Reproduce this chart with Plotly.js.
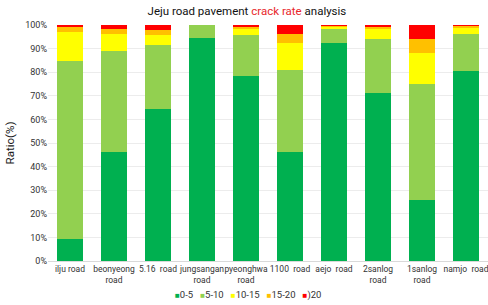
<!DOCTYPE html>
<html>
<head>
<meta charset="utf-8">
<script src="https://cdn.plot.ly/plotly-3.0.1.min.js"></script>
<style>html,body{margin:0;padding:0;background:#fff;}#chart{width:488px;height:305px;}</style>
</head>
<body>
<div id="chart"></div>
<script>
const categories = ["ilju road", "beonyeong<br>road", "5.16\u00a0\u00a0road", "jungsangan<br>road", "pyeonghwa<br>road", "1100\u00a0\u00a0road", "aejo\u00a0\u00a0road", "2sanlog<br>road", "1sanlog<br>road", "namjo\u00a0\u00a0road"];
const seriesNames = ["0-5", "5-10", "10-15", "15-20", ")20"];
const s0_5   = [9.5, 46.1, 64.6, 94.5, 78.5, 46.1, 92.4, 71.2, 26.0, 80.7];
const s5_10  = [75.4, 42.7, 27.1, 5.5, 17.1, 34.9, 6.0, 23.0, 48.9, 15.7];
const s10_15 = [12.0, 7.5, 4.1, 0, 2.8, 11.2, 0.7, 3.9, 13.4, 2.4];
const s15_20 = [2.1, 2.0, 1.9, 0, 0.9, 4.1, 0.6, 0.9, 5.6, 0.6];
const s20    = [1.0, 1.7, 2.3, 0, 0.7, 3.7, 0.3, 1.0, 6.1, 0.6];
const colors = ["#00b050", "#92d050", "#ffff00", "#ffc000", "#ff0000"];
const allSeries = [s0_5, s5_10, s10_15, s15_20, s20];

const traces = allSeries.map((vals, i) => ({
  type: "bar",
  name: seriesNames[i],
  x: categories,
  y: vals,
  marker: {color: colors[i], line: {width: 0}},
  hoverinfo: "skip",
  showlegend: false
}));

const font = "Roboto, 'Liberation Sans', sans-serif";
const legendText = seriesNames.map((n, i) =>
  "<span style='color:" + colors[i] + ";font-size:8px'>■</span>" + n
).join("\u00a0\u00a0\u00a0");

const layout = {
  width: 488, height: 305,
  margin: {l: 48, r: 0, t: 25, b: 44},
  barmode: "stack",
  bargap: 0.43,
  paper_bgcolor: "#fff",
  plot_bgcolor: "#fff",
  font: {family: font, size: 10, color: "#333"},
  title: {
    text: "Jeju road pavement <span style='fill:#e8262b'>crack rate</span> analysis",
    x: 0.506, xanchor: "center", y: 0.965, yanchor: "middle",
    font: {family: font, size: 11.5, color: "#111"}
  },
  xaxis: {
    type: "category",
    range: [-0.5, 9.5],
    tickangle: 0,
    tickfont: {family: font, size: 8.5, color: "#333"},
    showgrid: false, zeroline: false,
    showline: true, linecolor: "#d9d9d9", linewidth: 1,
    ticks: ""
  },
  yaxis: {
    range: [0, 100],
    dtick: 10,
    ticksuffix: "%",
    tickfont: {family: font, size: 9, color: "#333"},
    gridcolor: "#ececec", gridwidth: 1,
    zeroline: false,
    showline: false,
    title: {text: "Ratio(%)", font: {family: font, size: 11.5, color: "#222"}, standoff: 8}
  },
  annotations: [{
    xref: "paper", yref: "paper",
    x: 0.455, xanchor: "center",
    y: -0.142, yanchor: "middle",
    showarrow: false,
    text: legendText,
    font: {family: font, size: 9.5, color: "#333"}
  }],
  showlegend: false
};

Plotly.newPlot("chart", traces, layout, {displayModeBar: false, staticPlot: true});
</script>
</body>
</html>
